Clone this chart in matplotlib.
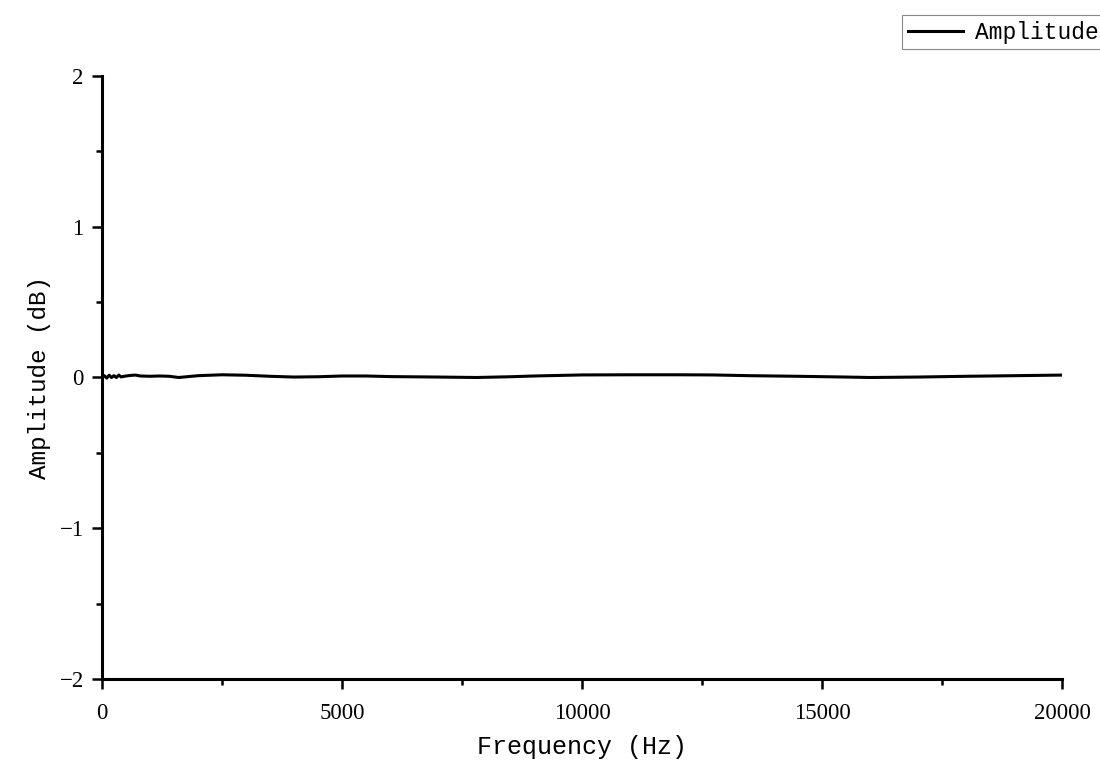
import matplotlib
matplotlib.use("Agg")
import matplotlib.pyplot as plt
from matplotlib.ticker import MultipleLocator

# frequency response
freq = [0, 50, 100, 150, 200, 250, 300, 350, 400, 500, 600, 700, 800, 1000,
        1200, 1400, 1600, 2000, 2500, 3000, 3500, 4000, 4500, 5000, 5500,
        6000, 7000, 7800, 8500, 9000, 10000, 11000, 12000, 12700, 13500,
        14500, 15500, 16000, 17000, 18000, 19000, 20000]
amp = [0.0, 0.012, -0.004, 0.015, 0.0, 0.012, 0.0, 0.016, 0.004, 0.01,
       0.014, 0.016, 0.01, 0.008, 0.01, 0.008, 0.0, 0.012, 0.018, 0.015,
       0.008, 0.003, 0.005, 0.01, 0.01, 0.006, 0.003, 0.0, 0.005, 0.01,
       0.017, 0.018, 0.018, 0.017, 0.012, 0.008, 0.003, 0.0, 0.003, 0.008,
       0.012, 0.016]

xticks = [0, 5000, 10000, 15000, 20000]
yticks = [-2, -1, 0, 1, 2]
yticklabels = ['\u22122', '\u22121', '0', '1', '2']

plt.rcParams['font.family'] = ['Liberation Mono', 'DejaVu Sans']

fig = plt.figure(figsize=(11, 7.62), dpi=100)
ax = fig.add_axes([0.0927, 0.1089, 0.8728, 0.7914])

ax.plot(freq, amp, color='black', lw=2.2, label='Amplitude')

ax.set_xlim(0, 20000)
ax.set_ylim(-2, 2)
ax.set_xticks(xticks)
ax.set_yticks(yticks)
ax.set_yticklabels(yticklabels)
ax.xaxis.set_minor_locator(MultipleLocator(2500))
ax.yaxis.set_minor_locator(MultipleLocator(0.5))
ax.tick_params(which='major', direction='out', length=7.2, width=1.8, pad=6)
ax.tick_params(which='minor', direction='out', length=4.5, width=1.8)
ax.tick_params(axis='x', which='major', pad=10)
for lab in ax.get_xticklabels() + ax.get_yticklabels():
    lab.set_family(['Liberation Serif', 'DejaVu Serif'])
    lab.set_fontsize(16.5)

for s in ['top', 'right']:
    ax.spines[s].set_visible(False)
for s in ['left', 'bottom']:
    ax.spines[s].set_linewidth(2.2)

ax.set_xlabel('Frequency (Hz)', fontsize=18, labelpad=8)
ax.set_ylabel('Amplitude (dB)', fontsize=17.5, labelpad=6)

leg = fig.legend(loc='upper left', bbox_to_anchor=(902 / 1100, 1 - 15 / 762),
                 borderaxespad=0, fontsize=16.5, fancybox=False,
                 edgecolor='#888888', handlelength=2.4, handletextpad=0.55,
                 borderpad=0.25, framealpha=1)
leg.get_frame().set_linewidth(0.8)

fig.savefig('out.png', dpi=100)
